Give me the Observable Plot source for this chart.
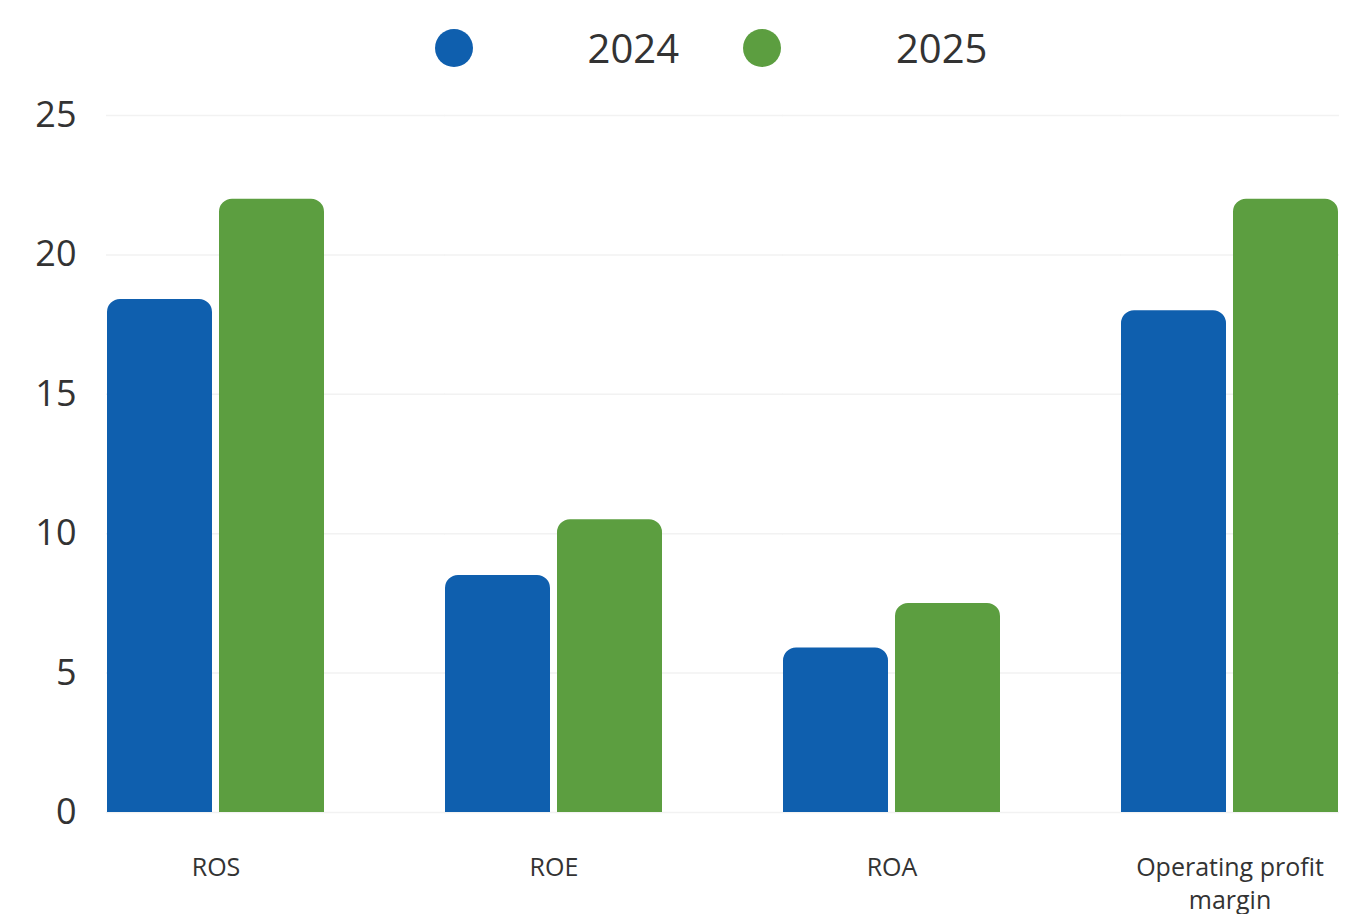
<!DOCTYPE html>
<html>
<head>
<meta charset="utf-8">
<script src="https://cdn.jsdelivr.net/npm/d3@7"></script>
<script src="https://cdn.jsdelivr.net/npm/@observablehq/plot@0.6"></script>
<style>
  html, body { margin: 0; padding: 0; background: #fff; }
  body { width: 1360px; height: 914px; overflow: hidden; font-family: "Open Sans", sans-serif; }
  #legend { height: 95px; display: flex; justify-content: center; align-items: flex-start; padding-top: 22px; padding-left: 62px; box-sizing: border-box; }
  .item { display: flex; align-items: center; font-size: 40px; line-height: 52px; color: #333; }
  .sw { width: 38px; height: 38px; border-radius: 50%; display: inline-block; margin-right: 115px; }
  .item + .item { margin-left: 64px; }
  svg { overflow: visible; }
</style>
</head>
<body>
<div id="legend"></div>
<div id="chart"></div>
<script>
const categories = ["ROS", "ROE", "ROA", "Operating profit margin"];
const categoryLabels = ["ROS", "ROE", "ROA", "Operating profit\nmargin"];
const years = ["2024", "2025"];
const colors = ["#0f5fae", "#5c9e40"];
const values2024 = [18.4, 8.5, 5.9, 18.0];
const values2025 = [22.0, 10.5, 7.5, 22.0];
const yTicks = [0, 5, 10, 15, 20, 25];

const data = [];
categories.forEach((c, i) => {
  data.push({category: c, year: years[0], value: values2024[i]});
  data.push({category: c, year: years[1], value: values2025[i]});
});

const gridData = categories.flatMap((c) => yTicks.map((t) => ({category: c, tick: t})));
const lastCat = categories[categories.length - 1];

const legend = document.getElementById("legend");
years.forEach((y, i) => {
  const it = document.createElement("div");
  it.className = "item";
  it.innerHTML = `<span class="sw" style="background:${colors[i]}"></span><span>${y}</span>`;
  legend.appendChild(it);
});

const labelOf = new Map(categories.map((c, i) => [c, categoryLabels[i]]));

const chart = Plot.plot({
  width: 1360,
  height: 819,
  marginTop: 20,
  marginBottom: 102,
  marginLeft: 105,
  marginRight: 20,
  style: {fontFamily: "Open Sans, sans-serif", color: "#333", background: "#fff", overflow: "visible"},
  fx: {domain: categories, paddingInner: 0.352, paddingOuter: 0, label: null},
  x: {domain: years, paddingInner: 0.06, paddingOuter: 0, axis: null},
  y: {domain: [0, 25], ticks: yTicks, label: null},
  color: {domain: years, range: colors},
  marks: [
    Plot.ruleY(gridData.filter((d) => d.category !== lastCat), {fx: "category", y: "tick", stroke: "#f2f2f2", strokeWidth: 1.5, insetRight: -120}),
    Plot.ruleY(gridData.filter((d) => d.category === lastCat), {fx: "category", y: "tick", stroke: "#f2f2f2", strokeWidth: 1.5}),
    Plot.barY(data, {fx: "category", x: "year", y: "value", fill: "year", ry1: 13, rx: 13}),
    Plot.axisY(yTicks, {tickSize: 0, tickPadding: 30, fontSize: 36, fill: "#333", label: null}),
    Plot.axisFx({anchor: "bottom", tickSize: 0, tickPadding: 40, fontSize: 25, fill: "#333", lineHeight: 1.32, tickFormat: (d) => labelOf.get(d), label: null}),
  ]
});
document.getElementById("chart").appendChild(chart);
</script>
</body>
</html>
